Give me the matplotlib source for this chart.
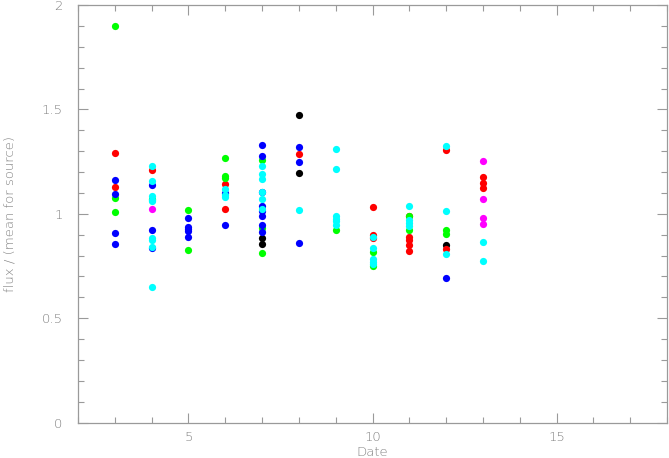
import matplotlib
matplotlib.use("Agg")
import matplotlib.pyplot as plt
from matplotlib.ticker import MultipleLocator

# data: (date, flux/mean) per source colour
black_x = [7, 7, 8, 8, 12]
black_y = [0.885, 0.856, 1.471, 1.193, 0.848]

red_x = [3, 3, 4, 6, 6, 8, 10, 10, 10, 11, 11, 11, 11, 11, 12, 12, 13, 13, 13]
red_y = [1.289, 1.126, 1.21, 1.142, 1.024, 1.288, 1.034, 0.897, 0.884,
         0.99, 0.891, 0.875, 0.851, 0.821, 1.307, 0.831, 1.174, 1.149, 1.123]

green_x = [3, 3, 3, 4, 5, 5, 6, 6, 6, 7, 7, 7, 9, 10, 10, 11, 11, 12, 12]
green_y = [1.90, 1.077, 1.006, 1.07, 1.016, 0.827, 1.265, 1.182, 1.171,
           1.259, 0.931, 0.814, 0.92, 0.816, 0.75, 0.99, 0.92, 0.92, 0.903]

blue_x = [3, 3, 3, 3, 4, 4, 4, 5, 5, 5, 5, 5, 6, 6, 7, 7, 7, 7, 7, 7, 7, 7,
          8, 8, 8, 12]
blue_y = [1.16, 1.094, 0.91, 0.855, 1.139, 0.922, 0.838, 0.978, 0.936, 0.927,
          0.915, 0.89, 1.099, 0.947, 1.329, 1.277, 1.102, 1.038, 1.013, 0.99,
          0.944, 0.912, 1.32, 1.248, 0.859, 0.692]

cyan_x = [4, 4, 4, 4, 4, 4, 4, 4, 4, 6, 6, 6, 7, 7, 7, 7, 7, 7, 8, 9, 9, 9,
          9, 9, 9, 10, 10, 10, 10, 10, 11, 11, 11, 11, 12, 12, 12, 13, 13]
cyan_y = [1.229, 1.155, 1.083, 1.067, 1.059, 0.883, 0.872, 0.843, 0.647,
          1.118, 1.091, 1.08, 1.229, 1.189, 1.168, 1.105, 1.073, 1.025,
          1.019, 1.312, 1.212, 0.987, 0.976, 0.963, 0.947, 0.891, 0.835,
          0.783, 0.77, 0.758, 1.035, 0.968, 0.955, 0.94, 1.323, 1.014,
          0.808, 0.866, 0.775]

magenta_x = [4, 13, 13, 13, 13]
magenta_y = [1.025, 1.255, 1.073, 0.979, 0.952]

series = [
    (black_x, black_y, "#000000"),
    (red_x, red_y, "#ff0000"),
    (green_x, green_y, "#00ff00"),
    (blue_x, blue_y, "#0000ff"),
    (cyan_x, cyan_y, "#00ffff"),
    (magenta_x, magenta_y, "#ff00ff"),
]

GRAY = "#9a9a9a"
TXT = "#808080"
plt.rcParams["font.family"] = ["DejaVu Sans"]

fig = plt.figure(figsize=(6.69, 4.58), dpi=100)
W, H = 669, 458
ax = fig.add_axes([78 / W, (H - 422.5) / H, (667 - 78) / W, (422.5 - 5) / H])

for xs, ys, c in series:
    ax.plot(xs, ys, "o", color=c, markersize=5.2, markeredgewidth=0,
            linestyle="none")

ax.set_xlim(2, 18)
ax.set_ylim(0, 2)
ax.xaxis.set_major_locator(MultipleLocator(5))
ax.xaxis.set_minor_locator(MultipleLocator(1))
ax.yaxis.set_major_locator(MultipleLocator(0.5))
ax.yaxis.set_minor_locator(MultipleLocator(0.1))
ax.tick_params(which="both", direction="in", top=True, right=True,
               color=GRAY, labelcolor=TXT, labelsize=9.5, width=0.8)
ax.tick_params(which="major", length=7)
ax.tick_params(which="minor", length=4)
ax.tick_params(axis="x", which="major", pad=6)
ax.tick_params(axis="y", which="major", pad=11)
ax.set_xticks([5, 10, 15])
ax.set_xticklabels(["5", "10", "15"])
ax.set_yticks([0, 0.5, 1, 1.5, 2])
ax.set_yticklabels(["0", "0.5", "1", "1.5", "2"])
for lab in ax.get_xticklabels() + ax.get_yticklabels():
    lab.set_fontweight("light")
for s in ax.spines.values():
    s.set_color(GRAY)
    s.set_linewidth(0.9)

ax.set_xlabel("Date", color=TXT, fontsize=9.5, labelpad=2.5, fontweight="light")
ax.set_ylabel("flux / (mean for source)", color=TXT, fontsize=9.5,
              labelpad=19, fontweight="light")

fig.savefig("out.png", dpi=100)
